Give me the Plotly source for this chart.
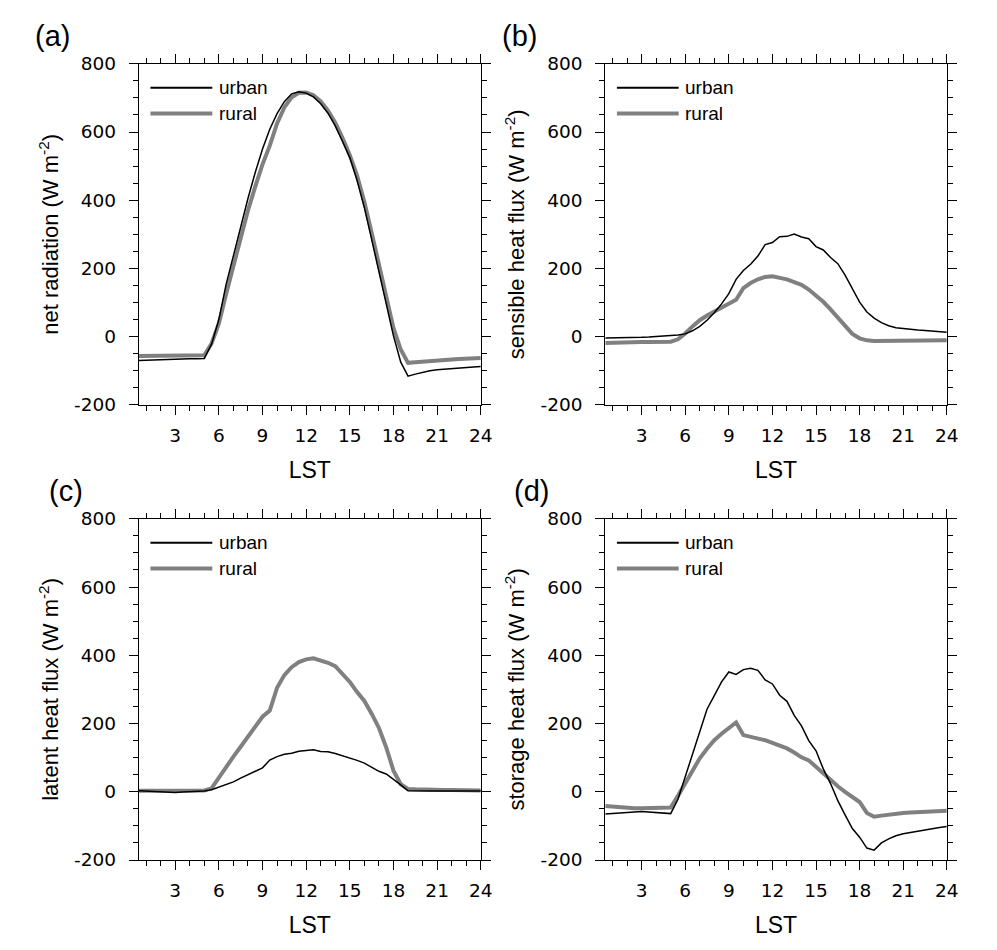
import plotly.graph_objects as go
from plotly.subplots import make_subplots

# ---------------- data ----------------
LST = [0.5, 1.0, 1.5, 2.0, 2.5, 3.0, 3.5, 4.0, 4.5, 5.0,
       5.5, 6.0, 6.5, 7.0, 7.5, 8.0, 8.5, 9.0, 9.5, 10.0,
       10.5, 11.0, 11.5, 12.0, 12.5, 13.0, 13.5, 14.0, 14.5, 15.0,
       15.5, 16.0, 16.5, 17.0, 17.5, 18.0, 18.5, 19.0, 19.5, 20.0,
       20.5, 21.0, 21.5, 22.0, 22.5, 23.0, 23.5, 24.0]

net_rad_urban = [-70, -69, -68, -67, -67, -66, -66, -65, -65, -64,
                 -22, 50, 153, 239, 323, 405, 481, 550, 608, 654,
                 689, 712, 718, 714, 703, 683, 655, 618, 572, 525,
                 458, 378, 285, 190, 96, 2, -75, -116, -110, -104,
                 -100, -97, -95, -93, -91, -90, -89, -88]
net_rad_rural = [-57, -57, -57, -57, -57, -57, -57, -56, -56, -55,
                 -20, 38, 125, 210, 292, 370, 440, 505, 560, 625,
                 672, 702, 715, 716, 708, 690, 663, 627, 582, 532,
                 472, 395, 305, 212, 118, 25, -38, -77, -75, -73,
                 -71, -70, -68, -67, -66, -65, -64, -63]

sens_urban = [-4, -4, -4, -4, -3, -2, -1, 0, 1, 3,
              5, 8, 17, 30, 48, 70, 96, 126, 168, 194,
              212, 236, 270, 276, 293, 294, 301, 292, 287, 264,
              254, 232, 214, 180, 140, 101, 72, 54, 41, 32,
              26, 23, 21, 19, 18, 16, 14, 13]
sens_rural = [-19, -18, -18, -17, -17, -16, -16, -15, -15, -15,
              -8, 9, 30, 48, 62, 74, 85, 95, 108, 142,
              157, 168, 175, 177, 174, 168, 160, 152, 138, 121,
              102, 80, 57, 33, 8, -5, -11, -13, -13, -13,
              -13, -13, -13, -12, -12, -12, -11, -11]

lat_urban = [3, 2, 1, 0, -2, -2, -1, 0, 1, 2,
             6, 14, 22, 29, 40, 50, 60, 70, 93, 103,
             110, 113, 119, 121, 123, 118, 117, 112, 106, 100,
             92, 84, 72, 60, 52, 37, 20, 3, 2, 2,
             2, 2, 2, 2, 2, 2, 2, 2]
lat_rural = [3, 3, 3, 3, 3, 3, 3, 3, 3, 4,
             10, 42, 72, 103, 132, 162, 194, 220, 238, 305,
             342, 365, 380, 388, 391, 386, 378, 368, 346, 322,
             292, 266, 229, 187, 130, 62, 22, 8, 7, 6,
             6, 5, 5, 5, 5, 5, 4, 4]

stor_urban = [-65, -63, -61, -60, -59, -58, -59, -60, -62, -64,
              -22, 45, 108, 178, 242, 282, 322, 351, 344, 358,
              362, 356, 328, 316, 283, 265, 224, 193, 150, 120,
              67, 24, -26, -68, -108, -133, -165, -171, -150, -138,
              -129, -123, -119, -116, -113, -109, -105, -102]
stor_rural = [-42, -44, -46, -47, -48, -48, -48, -48, -47, -46,
              -12, 24, 62, 98, 126, 151, 170, 188, 203, 166,
              162, 157, 151, 143, 135, 127, 115, 101, 92, 72,
              52, 33, 16, 0, -14, -30, -62, -73, -70, -67,
              -64, -62, -61, -60, -59, -58, -57, -56]

panel_labels = ["(a)", "(b)", "(c)", "(d)"]
y_titles = ["net radiation (W m<sup>-2</sup>)",
            "sensible heat flux (W m<sup>-2</sup>)",
            "latent heat flux (W m<sup>-2</sup>)",
            "storage heat flux (W m<sup>-2</sup>)"]
x_title = "LST"
series_names = ["urban", "rural"]
x_tickvals = [3, 6, 9, 12, 15, 18, 21, 24]
x_ticktext = ["3", "6", "9", "12", "15", "18", "21", "24"]
y_tickvals = [-200, 0, 200, 400, 600, 800]
y_ticktext = ["-200", "0", "200", "400", "600", "800"]

panels = [(net_rad_urban, net_rad_rural),
          (sens_urban, sens_rural),
          (lat_urban, lat_rural),
          (stor_urban, stor_rural)]

# ---------------- style ----------------
FONT = "Liberation Sans, Arial, Helvetica, sans-serif"
TICKFONT = "DejaVu Sans, Liberation Sans, Arial, sans-serif"
OFF = 8                      # page body margin in the browser
W, H = 997 - 2 * OFF, 950 - 2 * OFF
URBAN_COLOR, URBAN_W = "black", 1.5
RURAL_COLOR, RURAL_W = "#808080", 4

# target screen pixel positions of the plot boxes
col_px = [(138.8, 480.8), (605.3, 946.8)]
row_px = [(63.8, 404.8), (518.8, 860.0)]
label_pos = [(33, 36), (500, 36), (47, 491), (512, 491)]


def fx(px):
    return (px - OFF) / W


def fy(py):
    return 1 - (py - OFF) / H


fig = make_subplots(rows=2, cols=2)

for i, (urb, rur) in enumerate(panels):
    r, c = i // 2 + 1, i % 2 + 1
    fig.add_trace(go.Scatter(x=LST, y=rur, mode="lines", name=series_names[1],
                             line=dict(color=RURAL_COLOR, width=RURAL_W),
                             showlegend=False), row=r, col=c)
    fig.add_trace(go.Scatter(x=LST, y=urb, mode="lines", name=series_names[0],
                             line=dict(color=URBAN_COLOR, width=URBAN_W),
                             showlegend=False), row=r, col=c)

for i in range(4):
    rr, cc = i // 2, i % 2
    xn = "xaxis" if i == 0 else f"xaxis{i+1}"
    yn = "yaxis" if i == 0 else f"yaxis{i+1}"
    x0, x1 = col_px[cc]
    y0, y1 = row_px[rr]
    fig.layout[xn].update(
        domain=[fx(x0), fx(x1)], range=[0.5, 24], automargin=False,
        tickmode="array", tickvals=x_tickvals, ticktext=x_ticktext,
        ticks="outside", ticklen=9, tickwidth=1, tickcolor="black",
        showline=True, linecolor="black", linewidth=1.2, mirror="ticks",
        showgrid=False, zeroline=False,
        minor=dict(dtick=1, tick0=0, ticks="outside", ticklen=5, tickwidth=1,
                   tickcolor="black", showgrid=False),
        tickfont=dict(family=TICKFONT, size=18.5, color="black"),
        ticklabelstandoff=5,
        title=dict(text=x_title, font=dict(family=FONT, size=23, color="black"),
                   standoff=16))
    fig.layout[yn].update(
        domain=[fy(y1), fy(y0)], range=[-200, 800], automargin=False,
        tickmode="array", tickvals=y_tickvals, ticktext=y_ticktext,
        ticks="outside", ticklen=9, tickwidth=1, tickcolor="black",
        showline=True, linecolor="black", linewidth=1.2, mirror="ticks",
        showgrid=False, zeroline=False,
        minor=dict(dtick=50, tick0=0, ticks="outside", ticklen=5, tickwidth=1,
                   tickcolor="black", showgrid=False),
        tickfont=dict(family=TICKFONT, size=18.5, color="black"),
        ticklabelstandoff=9,
        title=dict(text=y_titles[i], font=dict(family=FONT, size=22, color="black"),
                   standoff=9))

    xr = "x" if i == 0 else f"x{i+1}"
    yr = "y" if i == 0 else f"y{i+1}"
    # legend keys (inside top-left)
    for name, yy, col, lw in [(series_names[0], 0.930, URBAN_COLOR, 2),
                              (series_names[1], 0.854, RURAL_COLOR, RURAL_W)]:
        fig.add_shape(type="line", xref=f"{xr} domain", yref=f"{yr} domain",
                      x0=0.034, x1=0.215, y0=yy, y1=yy,
                      line=dict(color=col, width=lw))
        fig.add_annotation(text=name, xref=f"{xr} domain", yref=f"{yr} domain",
                           x=0.228, y=yy, xanchor="left", yanchor="middle",
                           showarrow=False,
                           font=dict(family=FONT, size=19, color="black"))
    # panel label
    lx, ly = label_pos[i]
    fig.add_annotation(text=panel_labels[i], xref="paper", yref="paper",
                       x=fx(lx), y=fy(ly), xanchor="left", yanchor="middle",
                       showarrow=False,
                       font=dict(family=FONT, size=29, color="black"))

fig.update_layout(width=W, height=H, margin=dict(l=0, r=0, t=0, b=0),
                  paper_bgcolor="white", plot_bgcolor="white",
                  font=dict(family=FONT, color="black"), showlegend=False)

fig.write_html("out.html")
